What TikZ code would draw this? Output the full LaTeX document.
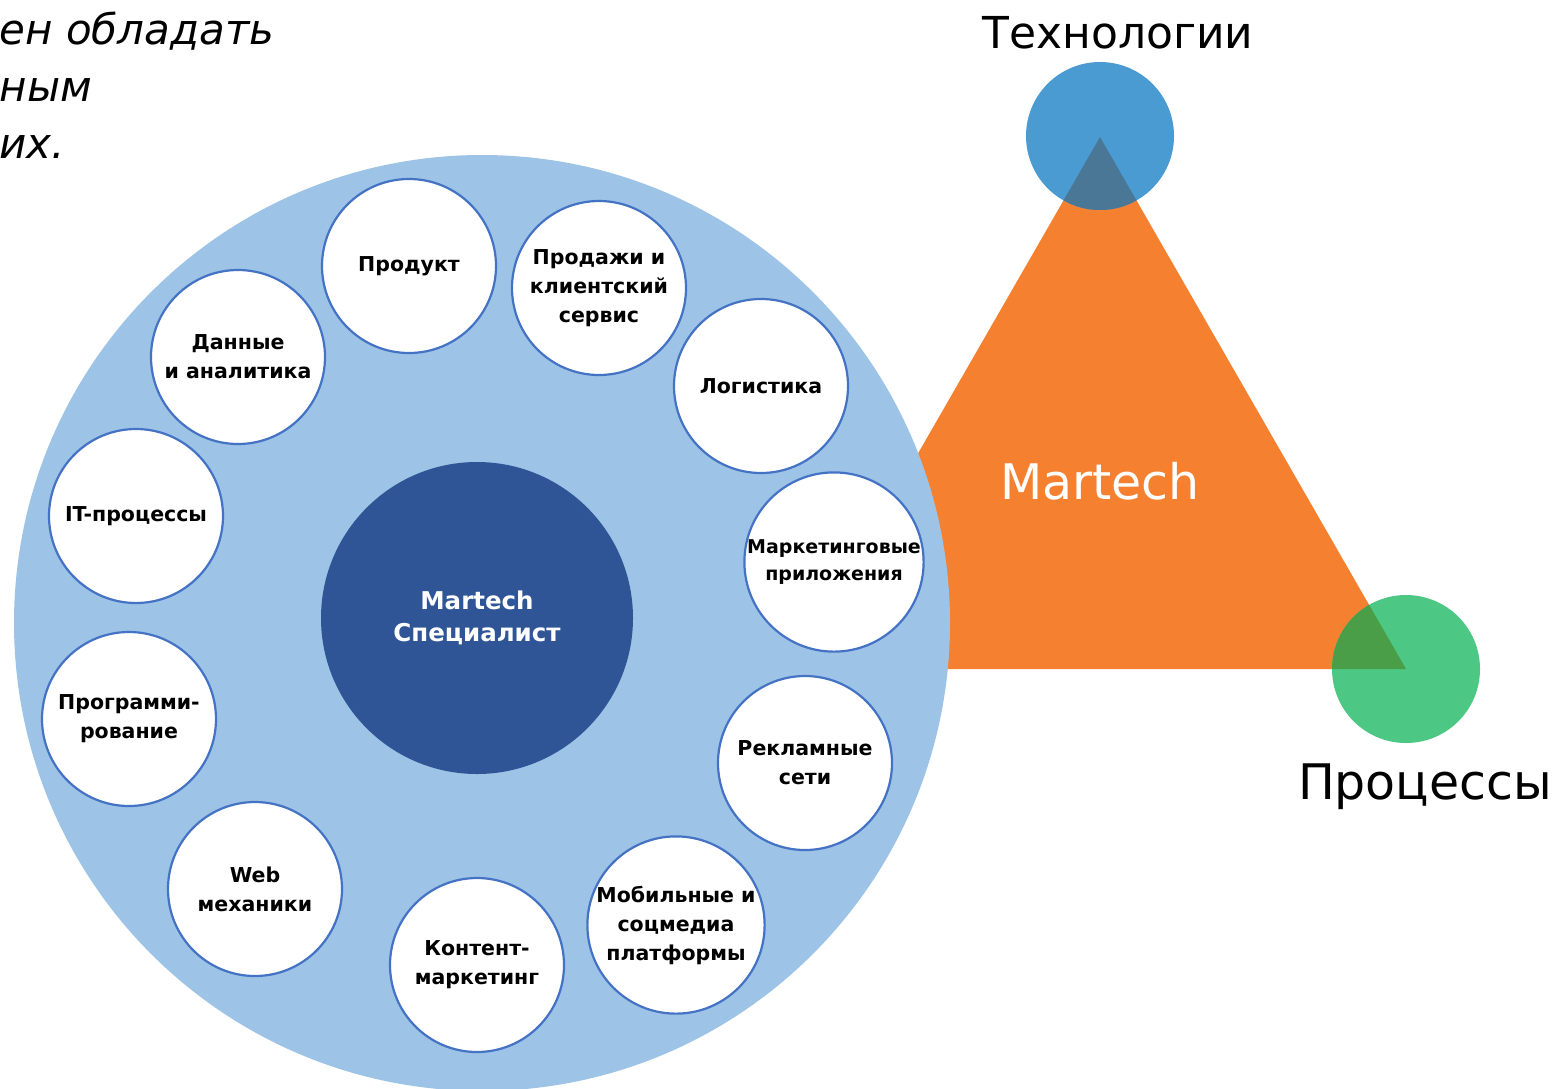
\documentclass[tikz,border=0pt]{standalone}
\usepackage{fontspec}
\setmainfont{DejaVu Sans}
\definecolor{fieldblue}{HTML}{9DC3E6}
\definecolor{coreblue}{HTML}{2F5597}
\definecolor{ringline}{HTML}{4472C4}
\definecolor{triorange}{HTML}{F48030}
\definecolor{techblue}{HTML}{4B9BD3}
\definecolor{techmix}{HTML}{4A7796}
\definecolor{procgreen}{HTML}{4DC784}
\definecolor{procmix}{HTML}{4A9E47}
\tikzset{
  skill/.style={circle, draw=ringline, line width=2.2pt, fill=white,
    minimum size=174pt, inner sep=0pt, align=center,
    font=\fontsize{20.5}{29}\selectfont\bfseries},
  vertex/.style={circle, minimum size=148pt, inner sep=0pt},
  intro/.style={anchor=base west, font=\fontsize{42}{46}\selectfont\itshape}
}
\begin{document}
\begin{tikzpicture}[x=1pt,y=-1pt]
\useasboundingbox (0,0) rectangle (1557,1088);
\clip (0,0) rectangle (1557,1088);

% fragments of the intro sentence
\node[intro] (l1) at (-4,44) {ен обладать};
\node[intro] (l2) at (-4,101) {ным};
\node[intro] (l3) at (-4,158) {их.};

% Martech triangle with its corner circles
\coordinate (apex) at (1100,137);
\coordinate (rt) at (1406,669);
\coordinate (lt) at (794,669);
\fill[triorange] (apex) -- (rt) -- (lt) -- cycle;
\node[vertex, fill=techblue] (tech) at (1100,136) {};
\node[vertex, fill=procgreen] (proc) at (1406,669) {};
\begin{scope}
  \clip (apex) -- (rt) -- (lt) -- cycle;
  \fill[techmix] (tech.center) circle (74pt);
  \fill[procmix] (proc.center) circle (74pt);
\end{scope}
\node[text=white, font=\fontsize{49}{52}\selectfont] (mt) at (1100,481) {Martech};
\node[font=\fontsize{44}{48}\selectfont] (techlabel) at (1118,33) {Технологии};
\node[font=\fontsize{49}{52}\selectfont] (proclabel) at (1425,787) {Процессы};

% skills field
\node[circle, fill=fieldblue, minimum size=936pt, inner sep=0pt] (field) at (482,623) {};
\node[circle, fill=coreblue, minimum size=312pt, inner sep=0pt, align=center,
      text=white, font=\fontsize{24.5}{32}\selectfont\bfseries] (core) at (477,618)
      {Martech\\Специалист};

\node[skill] (s1) at (409,266) {Продукт};
\node[skill] (s2) at (599,288) {Продажи и\\клиентский\\сервис};
\node[skill] (s3) at (761,386) {Логистика};
\node[skill, font=\fontsize{19}{27}\selectfont\bfseries] (s4) at (834,562) {Маркетинговые\\приложения};
\node[skill] (s5) at (805,763) {Рекламные\\сети};
\node[skill] (s6) at (676,925) {Мобильные и\\соцмедиа\\платформы};
\node[skill] (s7) at (477,965) {Контент-\\маркетинг};
\node[skill] (s8) at (255,889) {Web\\механики};
\node[skill] (s9) at (129,719) {Программи-\\рование};
\node[skill] (s10) at (136,516) {IT-процессы};
\node[skill] (s11) at (238,357) {Данные\\и аналитика};
\end{tikzpicture}
\end{document}
